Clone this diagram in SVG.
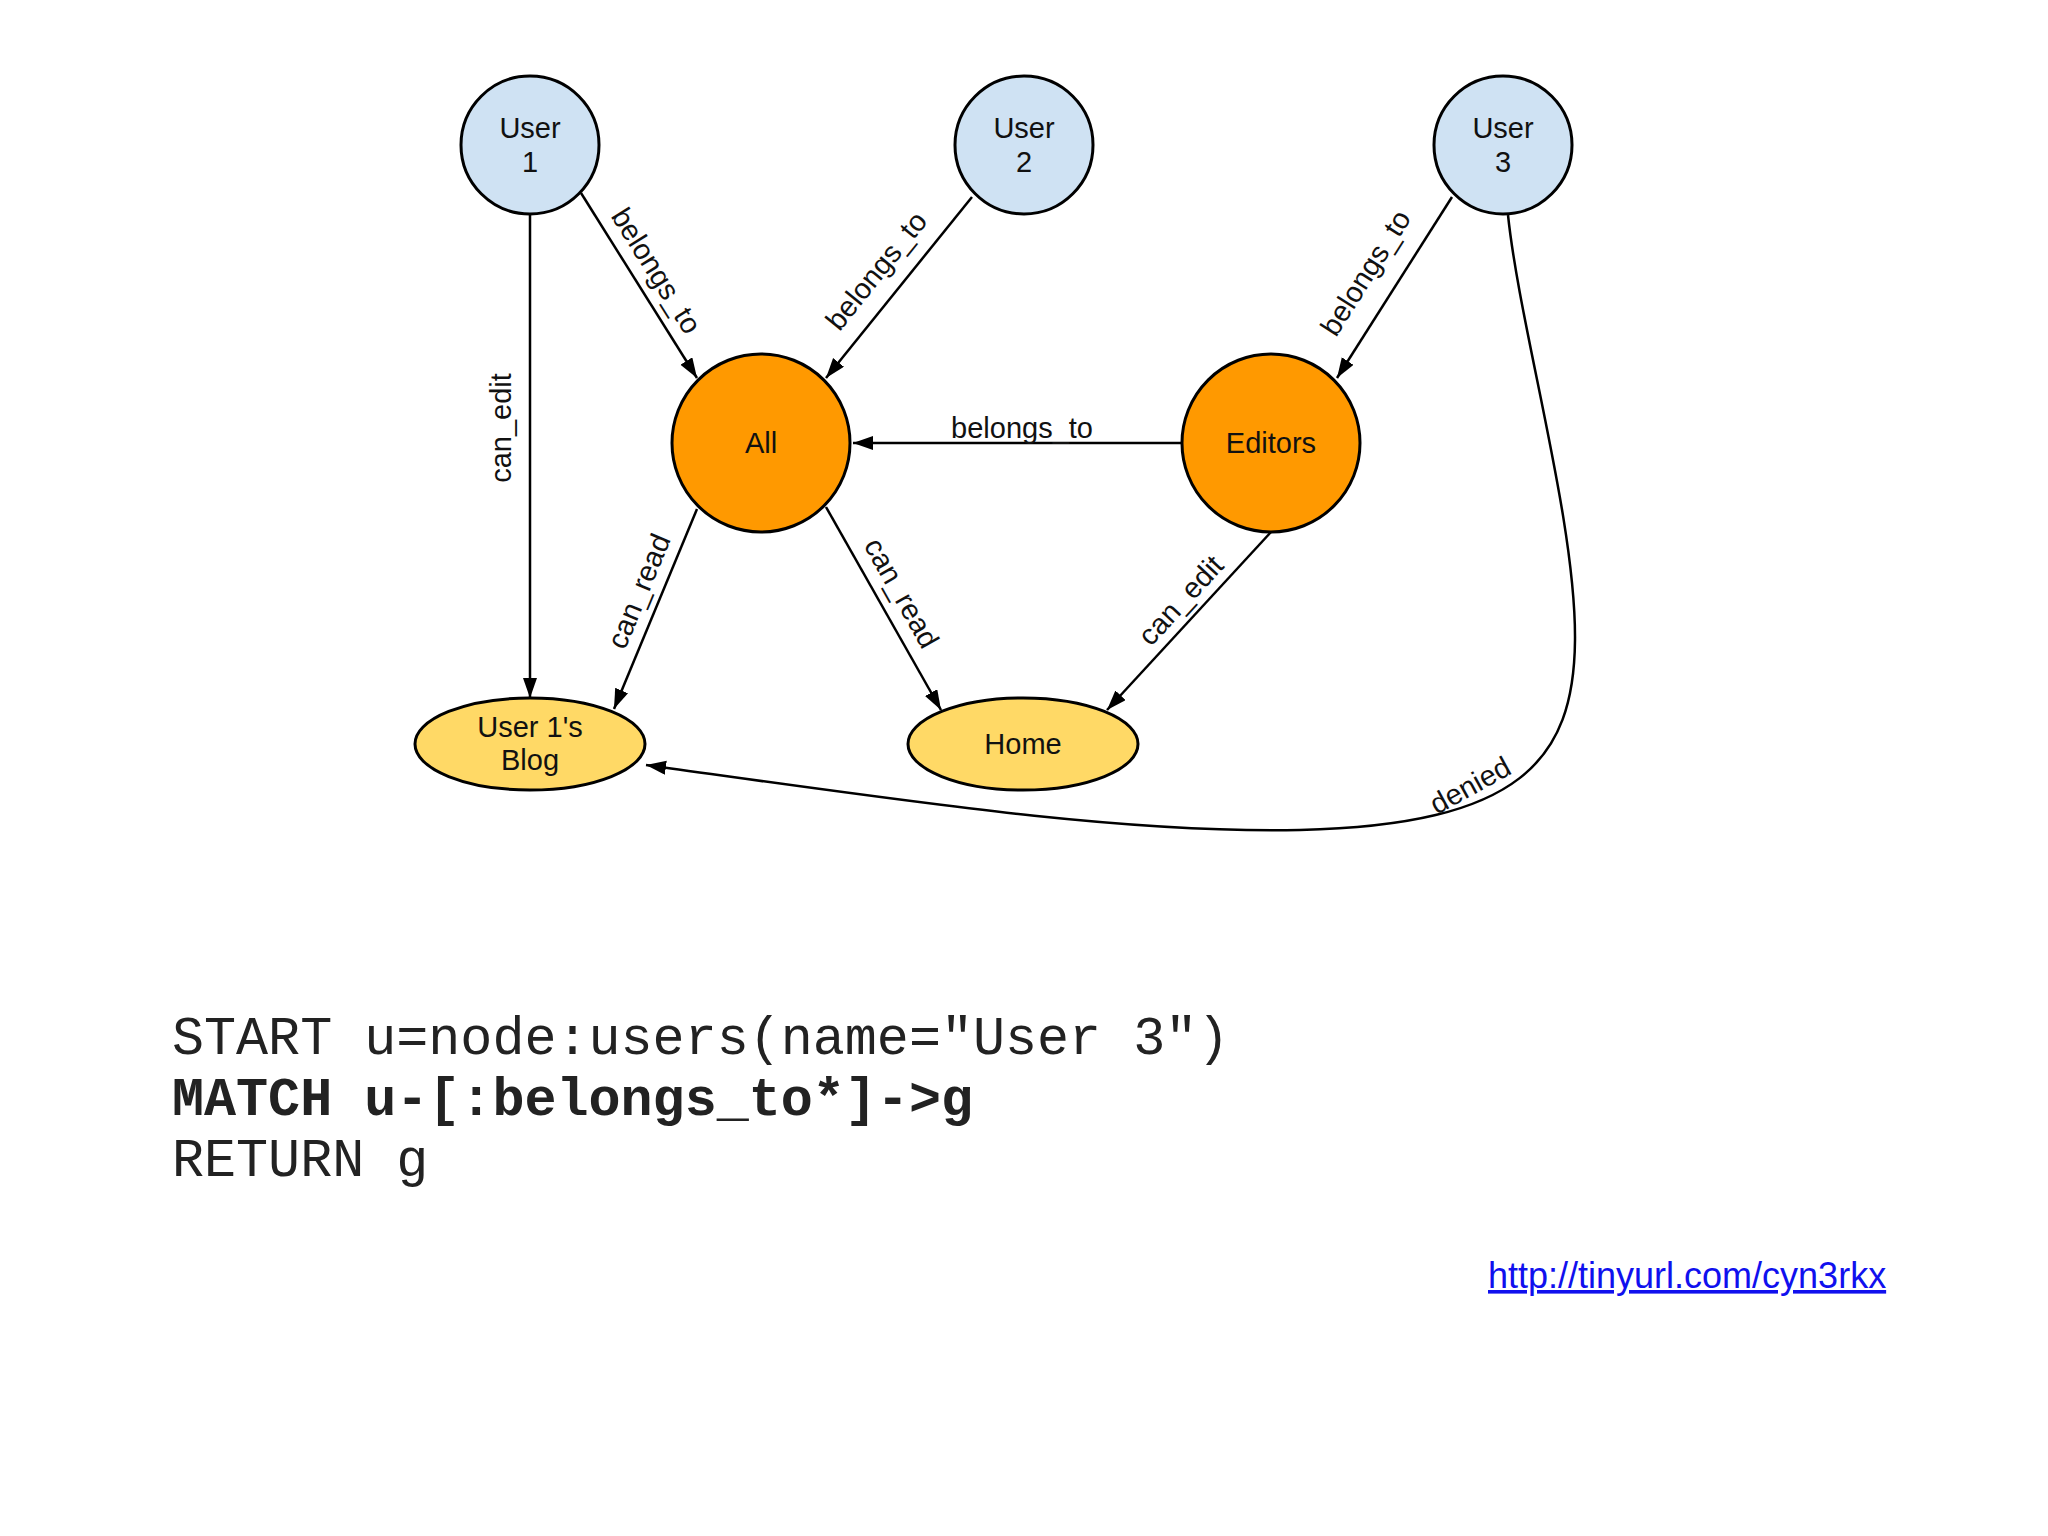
<svg xmlns="http://www.w3.org/2000/svg" width="2048" height="1536" viewBox="0 0 2048 1536">
<style>
.user{fill:#cfe2f3;stroke:#000;stroke-width:3}
.group{fill:#ff9900;stroke:#000;stroke-width:3}
.res{fill:#ffd966;stroke:#000;stroke-width:3}
.lbl{font-family:"Liberation Sans",Arial,sans-serif;font-size:29px;fill:#111;text-anchor:middle}
.elbl{font-family:"Liberation Sans",Arial,sans-serif;font-size:29px;fill:#111;text-anchor:middle}
.edge{fill:none;stroke:#000;stroke-width:2.5}
.code{font-family:"Courier New","Liberation Mono",monospace;font-size:53.4px;fill:#222}
.link{font-family:"Liberation Sans",Arial,sans-serif;font-size:36px;fill:#1010ee;text-decoration:underline}
</style>
<defs>
<marker id="arr" markerUnits="userSpaceOnUse" markerWidth="22" markerHeight="16" refX="20" refY="7" orient="auto" viewBox="0 0 22 16">
<path d="M0,0 L20,7 L0,14 z" fill="#000"/>
</marker>
</defs>
<rect width="2048" height="1536" fill="#fff"/>
<g id="connectors">
<line class="edge" x1="530" y1="214" x2="530" y2="698" marker-end="url(#arr)"/>
<line class="edge" x1="581" y1="193" x2="697" y2="378" marker-end="url(#arr)"/>
<line class="edge" x1="972" y1="197" x2="826" y2="378" marker-end="url(#arr)"/>
<line class="edge" x1="1452" y1="197" x2="1337" y2="378" marker-end="url(#arr)"/>
<line class="edge" x1="1182" y1="443" x2="853" y2="443" marker-end="url(#arr)"/>
<line class="edge" x1="697" y1="509" x2="614" y2="709" marker-end="url(#arr)"/>
<line class="edge" x1="826" y1="507" x2="941" y2="710" marker-end="url(#arr)"/>
<line class="edge" x1="1271" y1="532" x2="1107" y2="710" marker-end="url(#arr)"/>
<path class="edge" d="M1508,215 C1520,330 1576,520 1575,640 C1574,760 1520,825 1300,830 C1120,834 900,800 646,765" marker-end="url(#arr)"/>
<text class="elbl" transform="translate(511,428) rotate(-90)">can_edit</text>
<text class="elbl" transform="translate(648,276) rotate(57.9)">belongs_to</text>
<text class="elbl" transform="translate(884,277) rotate(-51.1)">belongs_to</text>
<text class="elbl" transform="translate(1374,278) rotate(-57.6)">belongs_to</text>
<text class="elbl" x="1022" y="438">belongs_to</text>
<text class="elbl" transform="translate(648,595) rotate(-67.5)">can_read</text>
<text class="elbl" transform="translate(893,598) rotate(60.5)">can_read</text>
<text class="elbl" transform="translate(1188,607) rotate(-47.3)">can_edit</text>
<text class="elbl" transform="translate(1475,794) rotate(-28.8)">denied</text>
</g>
<g id="user1">
<circle class="user" cx="530" cy="145" r="69"/>
<text class="lbl" x="530" y="138">User</text>
<text class="lbl" x="530" y="172">1</text>
</g>
<g id="user2">
<circle class="user" cx="1024" cy="145" r="69"/>
<text class="lbl" x="1024" y="138">User</text>
<text class="lbl" x="1024" y="172">2</text>
</g>
<g id="user3">
<circle class="user" cx="1503" cy="145" r="69"/>
<text class="lbl" x="1503" y="138">User</text>
<text class="lbl" x="1503" y="172">3</text>
</g>
<g id="all">
<circle class="group" cx="761" cy="443" r="89"/>
<text class="lbl" x="761" y="453">All</text>
</g>
<g id="editors">
<circle class="group" cx="1271" cy="443" r="89"/>
<text class="lbl" x="1271" y="453">Editors</text>
</g>
<g id="blog">
<ellipse class="res" cx="530" cy="744" rx="115" ry="46"/>
<text class="lbl" x="530" y="737">User 1's</text>
<text class="lbl" x="530" y="770">Blog</text>
</g>
<g id="home">
<ellipse class="res" cx="1023" cy="744" rx="115" ry="46"/>
<text class="lbl" x="1023" y="754">Home</text>
</g>
<g id="query">
<text class="code" x="172" y="1054">START u=node:users(name="User 3")</text>
<text class="code" x="172" y="1115" font-weight="bold" fill="#000">MATCH u-[:belongs_to*]-&gt;g</text>
<text class="code" x="172" y="1176">RETURN g</text>
</g>
<text class="link" x="1488" y="1288">http://tinyurl.com/cyn3rkx</text>
</svg>
